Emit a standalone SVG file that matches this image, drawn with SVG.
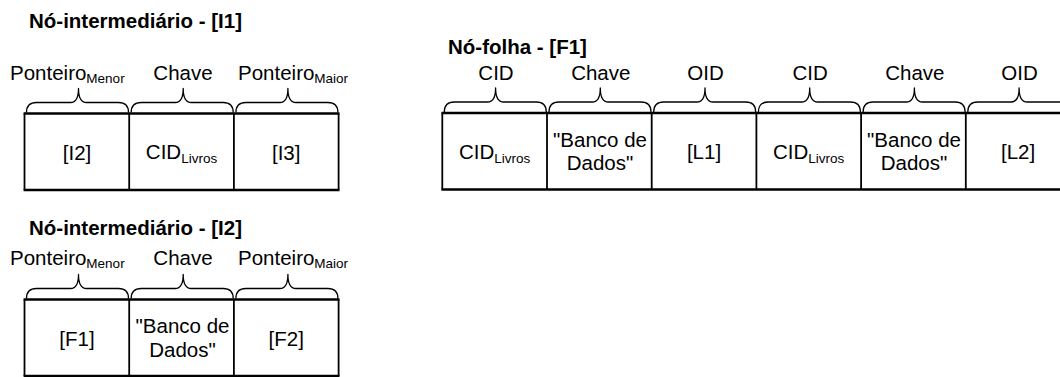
<svg xmlns="http://www.w3.org/2000/svg" width="1060" height="377" viewBox="0 0 1060 377">
  <style>
    text { font-family: "Liberation Sans", Arial, sans-serif; fill: #000; }
    .title { font-size: 20.5px; font-weight: bold; }
    .lbl { font-size: 20.5px; }
    .cell { font-size: 20.5px; text-anchor: middle; }
    .mid { text-anchor: middle; }
    .sub { font-size: 13.5px; }
    .hline { stroke: #000; stroke-width: 2.4; fill: none; }
    .vline { stroke: #000; stroke-width: 1.8; fill: none; }
    .brace { stroke: #000; stroke-width: 1.3; fill: none; stroke-linejoin: round; }
  </style>
  <rect width="1060" height="377" fill="#fff"/>

  <!-- Intermediate node I1 -->
  <g id="node-I1">
    <text class="title" x="29" y="28">Nó-intermediário - [I1]</text>
    <text class="lbl" x="10" y="80">Ponteiro<tspan class="sub" dy="3">Menor</tspan></text>
    <text class="lbl mid" x="183" y="80">Chave</text>
    <text class="lbl" x="238" y="80">Ponteiro<tspan class="sub" dy="3">Maior</tspan></text>
    <path class="brace" d="M26.5,112.5 C26.5,105.5 29.5,102.5 36.5,102.5 L70.5,102.5 C75.5,102.5 78.5,98.5 78.5,88.5 C78.5,98.5 81.5,102.5 86.5,102.5 L118.5,102.5 C125.5,102.5 128.5,105.5 128.5,112.5"/>
    <path class="brace" d="M131.2,112.5 C131.2,105.5 134.2,102.5 141.2,102.5 L175.2,102.5 C180.2,102.5 183.2,98.5 183.2,88.5 C183.2,98.5 186.2,102.5 191.2,102.5 L223.2,102.5 C230.2,102.5 233.2,105.5 233.2,112.5"/>
    <path class="brace" d="M235.9,112.5 C235.9,105.5 238.9,102.5 245.9,102.5 L279.9,102.5 C284.9,102.5 287.9,98.5 287.9,88.5 C287.9,98.5 290.9,102.5 295.9,102.5 L327.9,102.5 C334.9,102.5 337.9,105.5 337.9,112.5"/>
    <line class="hline" x1="23.6" y1="113.5" x2="339.5" y2="113.5"/>
    <line class="hline" x1="23.6" y1="190" x2="339.5" y2="190"/>
    <line class="vline" x1="24.5" y1="113.5" x2="24.5" y2="190"/>
    <line class="vline" x1="129.2" y1="113.5" x2="129.2" y2="190"/>
    <line class="vline" x1="233.9" y1="113.5" x2="233.9" y2="190"/>
    <line class="vline" x1="338.6" y1="113.5" x2="338.6" y2="190"/>
    <text class="cell" x="77" y="159.5">[I2]</text>
    <text class="cell" x="181.5" y="158.5">CID<tspan class="sub" dy="4">Livros</tspan></text>
    <text class="cell" x="286.2" y="159.5">[I3]</text>
  </g>

  <!-- Leaf node F1 -->
  <g id="node-F1">
    <text class="title" x="448" y="54">Nó-folha - [F1]</text>
    <text class="lbl mid" x="496" y="79.5">CID</text>
    <text class="lbl mid" x="600.8" y="79.5">Chave</text>
    <text class="lbl mid" x="705.5" y="79.5">OID</text>
    <text class="lbl mid" x="810.2" y="79.5">CID</text>
    <text class="lbl mid" x="914.9" y="79.5">Chave</text>
    <text class="lbl mid" x="1019.6" y="79.5">OID</text>
    <path class="brace" d="M444.3,112 C444.3,105 447.3,102 454.3,102 L487.6,102 C492.6,102 495.6,98 495.6,88 C495.6,98 498.6,102 503.6,102 L536.3,102 C543.3,102 546.3,105 546.3,112"/>
    <path class="brace" d="M549,112 C549,105 552,102 559,102 L592.3,102 C597.3,102 600.3,98 600.3,88 C600.3,98 603.3,102 608.3,102 L641,102 C648,102 651,105 651,112"/>
    <path class="brace" d="M653.7,112 C653.7,105 656.7,102 663.7,102 L697,102 C702,102 705,98 705,88 C705,98 708,102 713,102 L745.7,102 C752.7,102 755.7,105 755.7,112"/>
    <path class="brace" d="M758.4,112 C758.4,105 761.4,102 768.4,102 L801.7,102 C806.7,102 809.7,98 809.7,88 C809.7,98 812.7,102 817.7,102 L850.4,102 C857.4,102 860.4,105 860.4,112"/>
    <path class="brace" d="M863.1,112 C863.1,105 866.1,102 873.1,102 L906.4,102 C911.4,102 914.4,98 914.4,88 C914.4,98 917.4,102 922.4,102 L955.1,102 C962.1,102 965.1,105 965.1,112"/>
    <path class="brace" d="M967.8,112 C967.8,105 970.8,102 977.8,102 L1011.1,102 C1016.1,102 1019.1,98 1019.1,88 C1019.1,98 1022.1,102 1027.1,102 L1059.8,102 C1066.8,102 1069.8,105 1069.8,112"/>
    <line class="hline" x1="441.4" y1="113" x2="1071.4" y2="113"/>
    <line class="hline" x1="441.4" y1="189.5" x2="1071.4" y2="189.5"/>
    <line class="vline" x1="442.3" y1="113" x2="442.3" y2="189.5"/>
    <line class="vline" x1="547" y1="113" x2="547" y2="189.5"/>
    <line class="vline" x1="651.7" y1="113" x2="651.7" y2="189.5"/>
    <line class="vline" x1="756.4" y1="113" x2="756.4" y2="189.5"/>
    <line class="vline" x1="861.1" y1="113" x2="861.1" y2="189.5"/>
    <line class="vline" x1="965.8" y1="113" x2="965.8" y2="189.5"/>
    <line class="vline" x1="1070.5" y1="113" x2="1070.5" y2="189.5"/>
    <text class="cell" x="494.6" y="158.5">CID<tspan class="sub" dy="4">Livros</tspan></text>
    <text class="cell" x="600" y="147.3">"Banco de</text>
    <text class="cell" x="600" y="170.3">Dados"</text>
    <text class="cell" x="704" y="159">[L1]</text>
    <text class="cell" x="808.7" y="158.5">CID<tspan class="sub" dy="4">Livros</tspan></text>
    <text class="cell" x="914" y="147.3">"Banco de</text>
    <text class="cell" x="914" y="170.3">Dados"</text>
    <text class="cell" x="1018.1" y="159">[L2]</text>
  </g>

  <!-- Intermediate node I2 -->
  <g id="node-I2">
    <text class="title" x="29" y="235">Nó-intermediário - [I2]</text>
    <text class="lbl" x="10" y="265">Ponteiro<tspan class="sub" dy="3">Menor</tspan></text>
    <text class="lbl mid" x="183" y="265">Chave</text>
    <text class="lbl" x="238" y="265">Ponteiro<tspan class="sub" dy="3">Maior</tspan></text>
    <path class="brace" d="M26.5,298.5 C26.5,291.5 29.5,288.5 36.5,288.5 L70.5,288.5 C75.5,288.5 78.5,284.5 78.5,274.5 C78.5,284.5 81.5,288.5 86.5,288.5 L118.5,288.5 C125.5,288.5 128.5,291.5 128.5,298.5"/>
    <path class="brace" d="M131.2,298.5 C131.2,291.5 134.2,288.5 141.2,288.5 L175.2,288.5 C180.2,288.5 183.2,284.5 183.2,274.5 C183.2,284.5 186.2,288.5 191.2,288.5 L223.2,288.5 C230.2,288.5 233.2,291.5 233.2,298.5"/>
    <path class="brace" d="M235.9,298.5 C235.9,291.5 238.9,288.5 245.9,288.5 L279.9,288.5 C284.9,288.5 287.9,284.5 287.9,274.5 C287.9,284.5 290.9,288.5 295.9,288.5 L327.9,288.5 C334.9,288.5 337.9,291.5 337.9,298.5"/>
    <line class="hline" x1="23.6" y1="299.5" x2="339.5" y2="299.5"/>
    <line class="hline" x1="23.6" y1="376" x2="339.5" y2="376"/>
    <line class="vline" x1="24.5" y1="299.5" x2="24.5" y2="376"/>
    <line class="vline" x1="129.2" y1="299.5" x2="129.2" y2="376"/>
    <line class="vline" x1="233.9" y1="299.5" x2="233.9" y2="376"/>
    <line class="vline" x1="338.6" y1="299.5" x2="338.6" y2="376"/>
    <text class="cell" x="77" y="345.5">[F1]</text>
    <text class="cell" x="182.5" y="333.3">"Banco de</text>
    <text class="cell" x="182.5" y="356.5">Dados"</text>
    <text class="cell" x="286.2" y="345.5">[F2]</text>
  </g>
</svg>
